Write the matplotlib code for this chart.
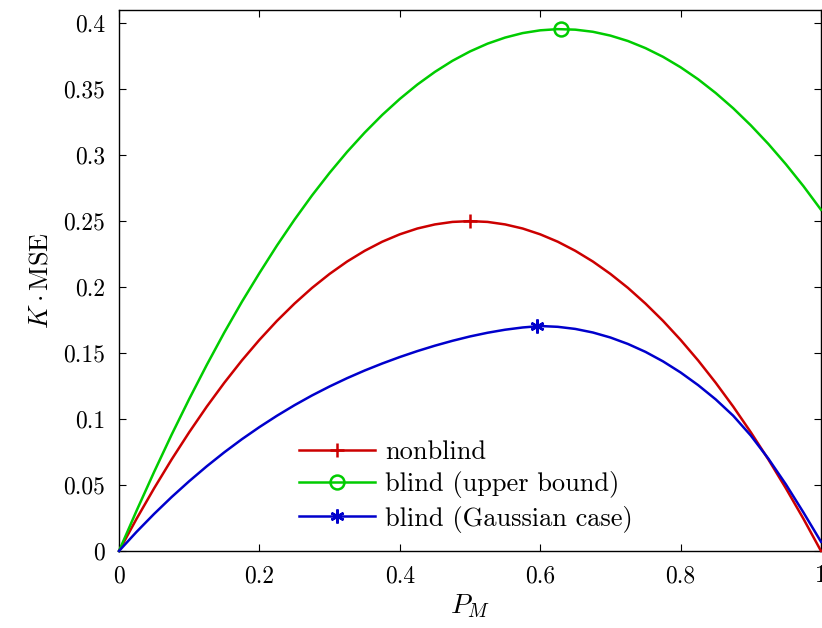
import matplotlib
matplotlib.use('Agg')
import matplotlib.pyplot as plt
from matplotlib.lines import Line2D

plt.rcParams['font.family'] = 'cmr10'
plt.rcParams['mathtext.fontset'] = 'cm'
plt.rcParams['axes.formatter.use_mathtext'] = True

# values, P_M step 0.025
pm = [0.0, 0.025, 0.05, 0.075, 0.1, 0.125, 0.15, 0.175, 0.2, 0.225,
      0.25, 0.275, 0.3, 0.325, 0.35, 0.375, 0.4, 0.425, 0.45, 0.475,
      0.5, 0.525, 0.55, 0.575, 0.6, 0.625, 0.65, 0.675, 0.7, 0.725,
      0.75, 0.775, 0.8, 0.825, 0.85, 0.875, 0.9, 0.925, 0.95, 0.975, 1.0]
nonblind = [0.0, 0.0244, 0.0475, 0.0694, 0.09, 0.1094, 0.1275, 0.1444, 0.16, 0.1744,
            0.1875, 0.1994, 0.21, 0.2194, 0.2275, 0.2344, 0.24, 0.2444, 0.2475, 0.2494,
            0.25, 0.2494, 0.2475, 0.2444, 0.24, 0.2344, 0.2275, 0.2194, 0.21, 0.1994,
            0.1875, 0.1744, 0.16, 0.1444, 0.1275, 0.1094, 0.09, 0.0694, 0.0475, 0.0244, 0.0]
blind_upper = [0.0, 0.0305, 0.0599, 0.0882, 0.1152, 0.1410, 0.1656, 0.1888, 0.2106, 0.2315,
               0.2511, 0.2695, 0.2866, 0.3025, 0.3171, 0.3305, 0.3426, 0.3535, 0.3631, 0.3715,
               0.3786, 0.3845, 0.3891, 0.3925, 0.3946, 0.3955, 0.3951, 0.3935, 0.3906, 0.3865,
               0.3811, 0.3745, 0.3666, 0.3575, 0.3471, 0.3355, 0.3226, 0.3085, 0.2931, 0.2765, 0.2586]
blind_gauss = [0.0, 0.0145, 0.0281, 0.0409, 0.0529, 0.0642, 0.0748, 0.0847, 0.0939, 0.1025,
               0.1105, 0.1179, 0.1247, 0.1310, 0.1368, 0.1421, 0.1470, 0.1515, 0.1556, 0.1593,
               0.1626, 0.1654, 0.1677, 0.1694, 0.1705, 0.1699, 0.1683, 0.1656, 0.1618, 0.1569,
               0.1509, 0.1437, 0.1353, 0.1257, 0.1149, 0.1025, 0.0875, 0.0700, 0.0505, 0.0292, 0.007]

# maxima marked on each curve
peak_x = [0.5, 0.63, 0.595]
peak_y = [0.25, 0.3955, 0.1707]

labels = ['nonblind', 'blind (upper bound)', 'blind (Gaussian case)']
colors = ['#cc0000', '#00cc00', '#0000cc']
markers = ['+', 'o', (6, 2, 0)]
xticks = [0, 0.2, 0.4, 0.6, 0.8, 1]
xticklabels = ['0', '0.2', '0.4', '0.6', '0.8', '1']
yticks = [0, 0.05, 0.1, 0.15, 0.2, 0.25, 0.3, 0.35, 0.4]
yticklabels = ['0', '0.05', '0.1', '0.15', '0.2', '0.25', '0.3', '0.35', '0.4']

fig = plt.figure(figsize=(8.22, 6.28), dpi=100)
ax = fig.add_axes([119/822, 1 - 551/628, 702/822, 541/628])

series = [nonblind, blind_upper, blind_gauss]
handles = []
for i, ys in enumerate(series):
    ax.plot(pm, ys, color=colors[i], lw=1.8, clip_on=False, zorder=3)
    ax.plot(peak_x[i], peak_y[i], linestyle='none', marker=markers[i],
            color=colors[i], markerfacecolor='none', markersize=10,
            markeredgewidth=1.8, clip_on=False, zorder=4)
    handles.append(Line2D([], [], color=colors[i], lw=1.8, marker=markers[i],
                          markerfacecolor='none', markersize=10, markeredgewidth=1.8))

ax.set_xlim(0, 1)
ax.set_ylim(0, 0.41)
ax.set_xticks(xticks)
ax.set_xticklabels(xticklabels)
ax.set_yticks(yticks)
ax.set_yticklabels(yticklabels)
ax.tick_params(direction='in', length=5, width=0.8, top=True, right=True,
               labelsize=17, pad=10)
for s in ax.spines.values():
    s.set_linewidth(1.0)

ax.set_xlabel(r'$P_M$', fontsize=20, labelpad=4)
ax.set_ylabel(r'$K \cdot \mathrm{MSE}$', fontsize=19, labelpad=8)

ax.legend(handles, labels, loc='upper left', bbox_to_anchor=(0.256, 0.205),
          frameon=False, fontsize=19, handlelength=2.9, handletextpad=0.38,
          labelspacing=0.28, borderpad=0, borderaxespad=0)

fig.savefig('out.png', dpi=100)
